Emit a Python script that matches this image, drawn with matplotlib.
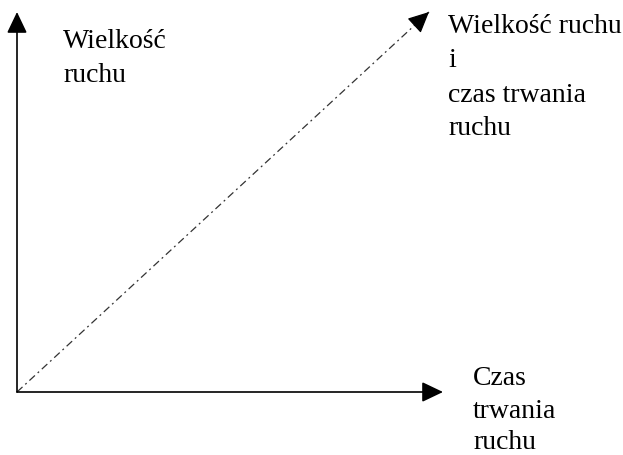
import matplotlib
matplotlib.use("Agg")
import matplotlib.pyplot as plt

# ---- data (conceptual diagram) ----
diag_x = [0.0, 1.0]          # trend line: "Wielkość ruchu i czas trwania ruchu"
diag_y = [0.0, 1.0]
x_axis_end = 1.034
y_axis_end = 1.0
y_label_lines = ["Wielkość", "ruchu"]
diag_label_lines = ["Wielkość ruchu", "i", "czas trwania", "ruchu"]
x_label_lines = ["Czas", "trwania", "ruchu"]

W, H = 623, 456
fig = plt.figure(figsize=(W / 100, H / 100), dpi=100)
ox, oy = 17, 393          # origin in pixels
tx, ty = 429, 13          # diagonal tip in pixels
ax = fig.add_axes([ox / W, (H - oy) / H, (tx - ox) / W, (oy - ty) / H])
ax.set_xlim(0, 1)
ax.set_ylim(0, 1)
ax.axis("off")

def d(px, py):
    return ((px - ox) / (tx - ox), (oy - py) / (oy - ty))

arrow_kw = dict(arrowstyle="-|>,head_length=13,head_width=6.2", mutation_scale=1,
                color="black", lw=1.2, shrinkA=0, shrinkB=0)

# axes arrows
ax.annotate("", xy=(x_axis_end, 0), xytext=(0, 0), arrowprops=arrow_kw, annotation_clip=False)
ax.annotate("", xy=(0, y_axis_end), xytext=(0, 0), arrowprops=arrow_kw, annotation_clip=False)

# diagonal dash-dot line with solid head
ax.plot(diag_x, diag_y, color="#333333", lw=0.9, linestyle=(0, (6, 3, 1.5, 3)),
        clip_on=False)
ax.annotate("", xy=(diag_x[1], diag_y[1]),
            xytext=(diag_x[1] - 0.03, diag_y[1] - 0.03),
            arrowprops=dict(arrow_kw, lw=0.9), annotation_clip=False)

font = dict(family=["Liberation Serif", "DejaVu Serif"], fontsize=20,
            color="black", ha="left", va="baseline")

for txt, by in zip(y_label_lines, [48, 82]):
    ax.text(*d(63, by), txt, **font)
for txt, by in zip(diag_label_lines, [33, 67, 102, 135]):
    ax.text(*d(448, by), txt, **font)
for txt, by in zip(x_label_lines, [385, 418, 449]):
    ax.text(*d(473, by), txt, **font)

fig.savefig("out.png", dpi=100, facecolor="white")
